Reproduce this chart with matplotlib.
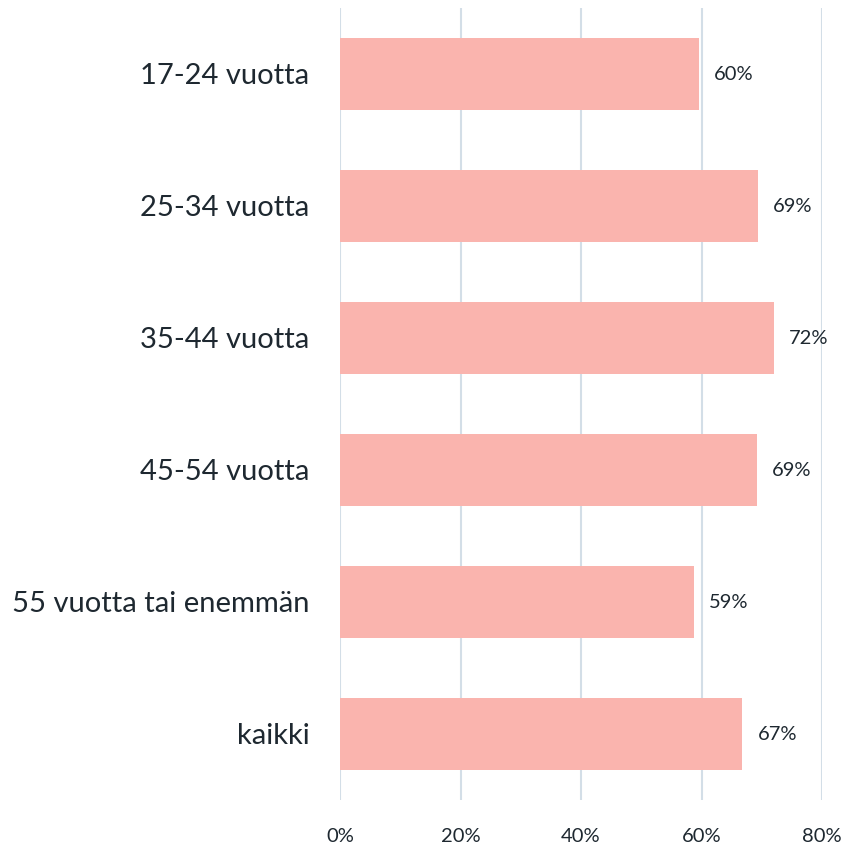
import matplotlib.pyplot as plt

# Data
categories = ['17-24 vuotta', '25-34 vuotta', '35-44 vuotta', '45-54 vuotta',
              '55 vuotta tai enemmän', 'kaikki']
values = [59.6, 69.3, 72.0, 69.2, 58.7, 66.8]
labels = ['60%', '69%', '72%', '69%', '59%', '67%']
ticks = [0, 20, 40, 60, 80]

bar_color = '#FAB4AE'
grid_color = '#D3DEE7'
text_color = '#1E2830'

plt.rcParams['font.family'] = ['Lato', 'DejaVu Sans']

fig = plt.figure(figsize=(8.49, 8.46), dpi=100)
ax = fig.add_axes([340 / 849, 46 / 846, 482 / 849, 792 / 846])

y = list(range(len(categories)))
ax.barh(y, values, height=0.545, color=bar_color, zorder=2)

for yi, v, lab in zip(y, values, labels):
    ax.text(v + 2.5, yi, lab, va='center', ha='left', fontsize=14.5, color=text_color)

ax.set_xlim(0, 80)
ax.set_ylim(len(categories) - 0.5, -0.5)
ax.set_xticks(ticks)
ax.set_xticklabels([f'{t}%' for t in ticks])
ax.set_yticks(y)
ax.set_yticklabels(categories)

ax.grid(axis='x', color=grid_color, linewidth=1.5, zorder=0)
for s in ax.spines.values():
    s.set_visible(False)
ax.tick_params(axis='both', length=0, colors=text_color)
ax.tick_params(axis='y', labelsize=21, pad=22)
ax.tick_params(axis='x', labelsize=14.5, pad=20)

fig.savefig('out.png', dpi=100)
